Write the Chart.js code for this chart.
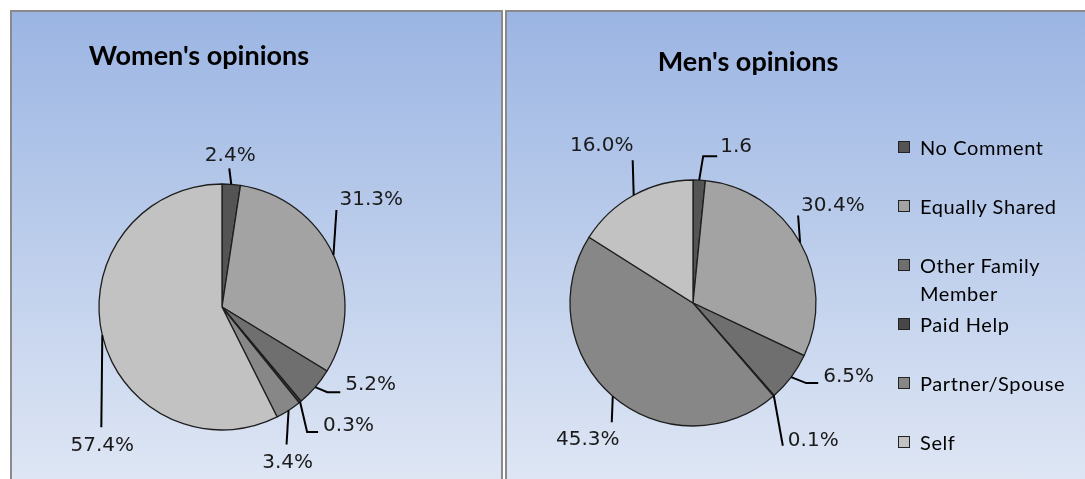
<!DOCTYPE html>
<html>
<head>
<meta charset="utf-8">
<script src="https://cdn.jsdelivr.net/npm/chart.js@4.4.0/dist/chart.umd.min.js"></script>
<style>
  body { margin:0; background:#fff; width:1085px; height:479px; overflow:hidden; position:relative; font-family: Lato, sans-serif; }
  .panel { position:absolute; top:10px; height:472px; background:linear-gradient(#9bb5e3, #dee6f4); border:2px solid #8a8a8a; box-sizing:border-box; }
  #pL { left:10px; width:493px; }
  #pR { left:505px; width:600px; }
  canvas { position:absolute; left:0; top:0; }
  .title { position:absolute; font-weight:bold; font-size:27px; line-height:27px; color:#000; transform:translate(-50%,-50%); white-space:nowrap; }
  .item { position:absolute; left:898px; width:185px; font-size:20px; line-height:28px; letter-spacing:0.6px; color:#000; }
  .sw { position:absolute; left:0; top:8px; width:10px; height:10px; border:1px solid #222; }
  .txt { position:absolute; left:22px; width:150px; }
</style>
</head>
<body>
<div class="panel" id="pL"></div>
<div class="panel" id="pR"></div>
<canvas id="women" width="1085" height="479"></canvas>
<canvas id="men" width="1085" height="479"></canvas>
<div class="title" style="left:199px;top:54px">Women's opinions</div>
<div class="title" style="left:748px;top:60px">Men's opinions</div>
<div id="legend"></div>
<script>
// ---- data ----
const categories = ['No Comment', 'Equally Shared', 'Other Family Member', 'Paid Help', 'Partner/Spouse', 'Self'];
const womenValues = [2.4, 31.3, 5.2, 0.3, 3.4, 57.4];
const menValues = [1.6, 30.4, 6.5, 0.1, 45.3, 16.0];
const womenLabels = womenValues.map(v => v.toFixed(1) + '%');
const menLabels = menValues.map(v => v.toFixed(1) + '%');
menLabels[0] = menValues[0].toFixed(1); // the % got clipped in the original

const colors = ['#545454', '#a3a3a3', '#6f6f6f', '#474747', '#878787', '#c2c2c2'];

// leader line + label placement, relative to the slice's outer mid point
const womenStyle = [
  { path: [[-2, -16]], align: 'center', dx: -1, dy: -29 },
  { path: [[3, -45]], align: 'left', dx: 6, dy: -55 },
  { path: [[12, 5], [25, 5]], align: 'left', dx: 30, dy: -2 },
  { path: [[7, 30], [18, 30]], align: 'left', dx: 23, dy: 24 },
  { path: [[-2, 34]], align: 'center', dx: -1, dy: 52 },
  { path: [[-1, 92]], align: 'center', dx: 0, dy: 110 }
];
const menStyle = [
  { path: [[4, -24], [18, -24]], align: 'left', dx: 21, dy: -33 },
  { path: [[-2, -27]], align: 'left', dx: 1, dy: -37 },
  { path: [[15, 6], [27, 6]], align: 'left', dx: 32, dy: 0 },
  { path: [[9, 50]], align: 'left', dx: 14, dy: 45 },
  { path: [[-1, 26]], align: 'center', dx: -25, dy: 44 },
  { path: [[-1, -35]], align: 'center', dx: -32, dy: -49 }
];

const leaders = {
  id: 'leaders',
  afterDatasetsDraw(chart, args, opts) {
    const ctx = chart.ctx;
    const arcs = chart.getDatasetMeta(0).data;
    ctx.save();
    ctx.strokeStyle = '#000';
    ctx.lineWidth = 2;
    ctx.font = '20px "DejaVu Sans"';
    ctx.fillStyle = '#1a1a1a';
    ctx.textBaseline = 'middle';
    arcs.forEach((arc, i) => {
      const p = arc.getProps(['x', 'y', 'startAngle', 'endAngle', 'outerRadius'], true);
      const mid = (p.startAngle + p.endAngle) / 2;
      const ax = p.x + Math.cos(mid) * p.outerRadius;
      const ay = p.y + Math.sin(mid) * p.outerRadius;
      const s = opts.style[i];
      ctx.beginPath();
      ctx.moveTo(ax, ay);
      s.path.forEach(q => ctx.lineTo(ax + q[0], ay + q[1]));
      ctx.stroke();
      ctx.textAlign = s.align;
      ctx.fillText(opts.labels[i], ax + s.dx, ay + s.dy);
    });
    ctx.restore();
  }
};

function pie(id, values, labels, style, cx, cy) {
  const W = 1085, H = 479, half = 130;
  return new Chart(document.getElementById(id), {
    type: 'pie',
    data: {
      labels: categories,
      datasets: [{
        data: values,
        backgroundColor: colors,
        borderColor: '#1e1e1e',
        borderWidth: 1.3,
        radius: 123
      }]
    },
    options: {
      responsive: false,
      animation: false,
      layout: { padding: { left: cx - half, right: W - cx - half, top: cy - half, bottom: H - cy - half } },
      plugins: {
        legend: { display: false },
        tooltip: { enabled: false },
        leaders: { labels: labels, style: style }
      }
    },
    plugins: [leaders]
  });
}

pie('women', womenValues, womenLabels, womenStyle, 222, 307);
pie('men', menValues, menLabels, menStyle, 693, 303);

// ---- legend (shared) ----
const legend = document.getElementById('legend');
categories.forEach((c, i) => {
  const d = document.createElement('div');
  d.className = 'item';
  d.style.top = (147 + 59 * i - 14) + 'px';
  d.innerHTML = '<div class="sw" style="background:' + colors[i] + '"></div><div class="txt">' + c + '</div>';
  legend.appendChild(d);
});
</script>
</body>
</html>
